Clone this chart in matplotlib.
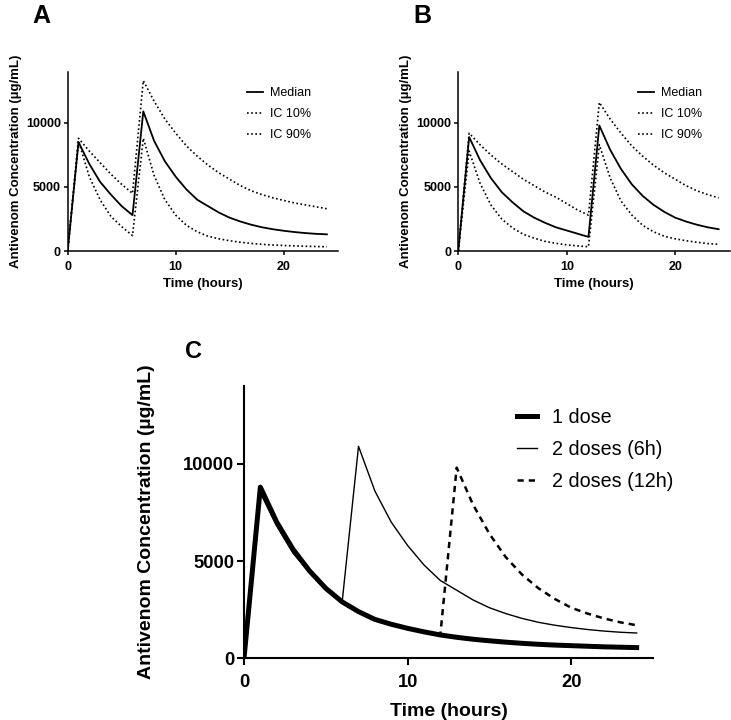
import numpy as np
import matplotlib
matplotlib.use("Agg")
import matplotlib.pyplot as plt

plt.rcParams['font.family'] = ['Liberation Sans', 'DejaVu Sans']

hours = list(range(25))

# panel A: two doses, 6 h apart
a_median = [0, 8500, 6800, 5400, 4400, 3500, 2800, 10900, 8600, 7000, 5800, 4800, 4000,
            3500, 3000, 2600, 2300, 2050, 1850, 1700, 1580, 1480, 1400, 1340, 1300]
a_ic10 = [0, 8600, 5800, 4000, 2700, 1900, 1200, 8800, 5900, 4000, 2800, 2000, 1500,
          1150, 950, 800, 680, 590, 520, 470, 430, 400, 370, 350, 330]
a_ic90 = [0, 8800, 7800, 6900, 6000, 5200, 4500, 13300, 11700, 10300, 9200, 8200, 7400,
          6700, 6100, 5600, 5100, 4700, 4400, 4150, 3950, 3750, 3600, 3450, 3300]

# panel B: two doses, 12 h apart
b_median = [0, 8900, 7100, 5700, 4600, 3800, 3100, 2600, 2200, 1850, 1600, 1350, 1100,
            9800, 7900, 6400, 5200, 4300, 3600, 3050, 2600, 2300, 2050, 1850, 1700]
b_ic10 = [0, 7800, 5300, 3600, 2500, 1800, 1300, 1000, 750, 600, 480, 400, 330,
          8300, 5700, 3900, 2800, 2000, 1500, 1150, 950, 800, 680, 580, 520]
b_ic90 = [0, 9200, 8300, 7500, 6800, 6200, 5600, 5100, 4600, 4200, 3700, 3200, 2800,
          11600, 10300, 9200, 8200, 7400, 6700, 6100, 5600, 5100, 4700, 4400, 4150]

# panel C: dosing schemes compared
c_one = [0, 8800, 7000, 5600, 4500, 3600, 2900, 2400, 2000, 1750, 1540, 1360, 1200,
         1080, 980, 900, 830, 770, 720, 680, 650, 620, 590, 570, 550]
c_two_6h = [0, 8500, 6800, 5400, 4400, 3500, 2900, 10900, 8600, 7000, 5800, 4800, 4000,
            3500, 3000, 2600, 2300, 2050, 1850, 1700, 1580, 1480, 1400, 1340, 1300]
c_two_12h = [0, 8800, 7000, 5600, 4500, 3600, 2900, 2400, 2000, 1750, 1540, 1360, 1200,
             9800, 7900, 6400, 5200, 4300, 3600, 3050, 2600, 2300, 2050, 1850, 1700]

ylabel = "Antivenom Concentration (\u00b5g/mL)"
W, H = 731, 720

fig = plt.figure(figsize=(7.31, 7.2), dpi=100)


def px_axes(x0, y0, x1, y1):
    return fig.add_axes([x0 / W, 1 - y1 / H, (x1 - x0) / W, (y1 - y0) / H])


def style(ax, fs_tick, fs_lab, spw, ticklen, pad, xlpad, ylpad):
    ax.set_xlim(0, 25)
    ax.set_ylim(0, 14000)
    ax.set_xticks([0, 10, 20])
    ax.set_yticks([0, 5000, 10000])
    for s in ['top', 'right']:
        ax.spines[s].set_visible(False)
    for s in ['left', 'bottom']:
        ax.spines[s].set_linewidth(spw)
    ax.tick_params(direction='out', length=ticklen, width=spw, labelsize=fs_tick)
    ax.tick_params(axis='x', pad=pad)
    ax.tick_params(axis='y', pad=2)
    for lab in ax.get_xticklabels() + ax.get_yticklabels():
        lab.set_fontweight('bold')
    ax.set_xlabel("Time (hours)", fontsize=fs_lab, fontweight='bold', labelpad=xlpad)
    ax.set_ylabel(ylabel, fontsize=fs_lab, fontweight='bold', labelpad=ylpad)


def small_panel(x0, x1, med, lo, hi, legx):
    ax = px_axes(x0, 71.7, x1, 251)
    ax.plot(hours, med, color='black', lw=1.3, label='Median')
    ax.plot(hours, lo, color='black', lw=1.2, ls=(0, (1, 1.5)), label='IC 10%')
    ax.plot(hours, hi, color='black', lw=1.2, ls=(0, (1, 1.5)), label='IC 90%')
    style(ax, 9, 9.5, 1.1, 3, 4, 4, 3)
    ax.legend(loc='upper left', bbox_to_anchor=(legx / W, 1 - 87 / H),
              bbox_transform=fig.transFigure, frameon=False, fontsize=9,
              handlelength=1.3, handletextpad=0.55, labelspacing=0.74,
              borderpad=0, borderaxespad=0)
    return ax


small_panel(67.7, 337.7, a_median, a_ic10, a_ic90, 247)
small_panel(458.3, 729.5, b_median, b_ic10, b_ic90, 638)

axc = px_axes(244, 386, 653, 658.3)
axc.plot(hours, c_two_12h, color='black', lw=1.8, ls=(0, (2.5, 2)), label='2 doses (12h)', zorder=1)
axc.plot(hours, c_one, color='black', lw=3.6, label='1 dose', zorder=2)
axc.plot(hours, c_two_6h, color='black', lw=1.0, label='2 doses (6h)', zorder=3)
style(axc, 13.2, 14, 1.5, 5, 6, 9, 20)
handles, labels = axc.get_legend_handles_labels()
order = [1, 2, 0]
axc.legend([handles[i] for i in order], [labels[i] for i in order],
           loc='upper left', bbox_to_anchor=(517 / W, 1 - 408 / H),
           bbox_transform=fig.transFigure, frameon=False, fontsize=14.2,
           handlelength=1.0, handletextpad=0.75, labelspacing=0.65,
           borderpad=0, borderaxespad=0)

fig.text(32 / W, 1 - 4 / H, "A", fontsize=18, fontweight='bold', va='top', ha='left')
fig.text(413 / W, 1 - 4 / H, "B", fontsize=18, fontweight='bold', va='top', ha='left')
fig.text(185 / W, 1 - 340 / H, "C", fontsize=17, fontweight='bold', va='top', ha='left')

fig.savefig("out.png", dpi=100)
